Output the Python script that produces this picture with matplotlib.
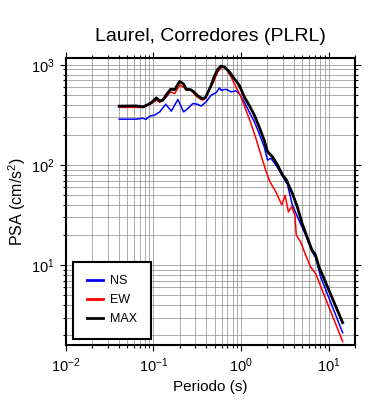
#!/usr/bin/env python3
# -*- coding: utf-8 -*-
import matplotlib
matplotlib.use("Agg")
import matplotlib.pyplot as plt
from matplotlib.ticker import LogLocator, NullFormatter

plt.rcParams['font.family'] = ['Liberation Sans', 'DejaVu Sans']
plt.rcParams['mathtext.fontset'] = 'custom'
plt.rcParams['mathtext.rm'] = 'Liberation Sans'

title = "Laurel, Corredores (PLRL)"

# periods (s) and PSA (cm/s^2)
ns_period = [0.0406, 0.064, 0.076, 0.082, 0.091, 0.103, 0.118, 0.138, 0.16, 0.19,
             0.221, 0.247, 0.282, 0.32, 0.35, 0.40, 0.456, 0.52, 0.566, 0.592,
             0.675, 0.77, 0.877, 0.956, 1.09, 1.24, 1.42, 1.61, 1.84, 2.01,
             2.19, 2.50, 2.85, 3.24, 3.38, 3.86, 4.6, 5.48, 6.5, 7.1, 8.1, 14.5]
ns_psa = [287, 287, 293, 285, 308, 315, 339, 404, 345, 451,
          339, 366, 411, 404, 387, 427, 498, 527, 588, 557,
          570, 537, 550, 516, 427, 339, 270, 207, 152, 112,
          117, 100, 83, 68, 65, 40, 28, 20, 13.6, 12, 7.7, 2.12]

ew_period = [0.0406, 0.076, 0.095, 0.108, 0.118, 0.141, 0.157, 0.175, 0.199, 0.221,
             0.237, 0.27, 0.30, 0.335, 0.36, 0.39, 0.418, 0.476, 0.542, 0.608,
             0.675, 0.77, 0.877, 1.0, 1.14, 1.30, 1.48, 1.69, 1.92, 2.14,
             2.50, 2.92, 3.19, 3.48, 3.8, 4.14, 4.28, 4.81, 5.48, 6.24, 7.1, 14.5]
ew_psa = [376, 376, 411, 444, 421, 479, 537, 516, 625, 600,
          557, 557, 498, 461, 444, 461, 537, 645, 851, 951,
          912, 757, 600, 479, 352, 260, 184, 126, 88, 68,
          54, 40, 50, 34, 38.5, 31, 20, 17, 12.6, 9.6, 8.3, 1.73]

max_period = [0.0406, 0.064, 0.076, 0.087, 0.095, 0.108, 0.118, 0.128, 0.141, 0.157,
              0.175, 0.199, 0.221, 0.237, 0.265, 0.289, 0.321, 0.36, 0.39, 0.418,
              0.456, 0.497, 0.542, 0.592, 0.646, 0.736, 0.839, 0.956, 1.09, 1.24,
              1.42, 1.61, 1.84, 2.01, 2.29, 2.61, 2.97, 3.30, 3.86, 4.39, 5.0,
              5.98, 6.5, 7.0, 7.8, 14.5]
max_psa = [387, 389, 380, 402, 421, 468, 436, 444, 505, 570,
           566, 683, 643, 570, 566, 537, 490, 461, 468, 527,
           625, 770, 902, 972, 951, 851, 726, 625, 479, 395,
           315, 241, 177, 136, 121, 100, 80, 71, 52, 38.5, 26,
           17, 14, 13, 9.6, 2.67]

fig = plt.figure(figsize=(3.9, 4.0), dpi=100)
ax = fig.add_axes([0.169, 0.1375, 0.741, 0.7185])

ax.plot(ns_period, ns_psa, color='#0000ff', lw=1.1, label='NS')
ax.plot(ew_period, ew_psa, color='#ff0000', lw=1.1, label='EW')
ax.plot(max_period, max_psa, color='black', lw=2.0, label='MAX')

ax.set_xscale('log')
ax.set_yscale('log')
ax.set_xlim(0.01, 20)
ax.set_ylim(1.6, 1180)

ax.xaxis.set_major_locator(LogLocator(base=10, numticks=10))
ax.xaxis.set_minor_locator(LogLocator(base=10, subs=range(2, 10), numticks=10))
ax.yaxis.set_minor_locator(LogLocator(base=10, subs=range(2, 10), numticks=10))
ax.xaxis.set_minor_formatter(NullFormatter())
ax.yaxis.set_minor_formatter(NullFormatter())

ax.grid(True, which='both', color='#8a8a8a', lw=0.5)
ax.set_axisbelow(True)
ax.tick_params(which='both', direction='out', top=True, right=True,
               labeltop=False, labelright=False, width=0.8, labelsize=10.5)
ax.tick_params(which='major', length=4.5)
ax.tick_params(which='minor', length=2.5)
for s in ax.spines.values():
    s.set_linewidth(1.5)

ax.set_title(title, fontsize=14, pad=12)
ax.set_xlabel('Periodo (s)', fontsize=11)
ax.set_ylabel('PSA (cm/s$^2$)', fontsize=11.5, labelpad=2)

leg = ax.legend(loc='lower left', fontsize=9, frameon=True, fancybox=False,
                handlelength=1.3, handletextpad=0.6, borderpad=1.1,
                labelspacing=0.55, borderaxespad=0,
                bbox_to_anchor=(0.024, 0.021))
leg.get_frame().set_edgecolor('black')
leg.get_frame().set_linewidth(1.5)
leg.get_frame().set_alpha(1)
for h in leg.get_lines():
    h.set_linewidth(2.0)

fig.savefig('out.png', dpi=100)
